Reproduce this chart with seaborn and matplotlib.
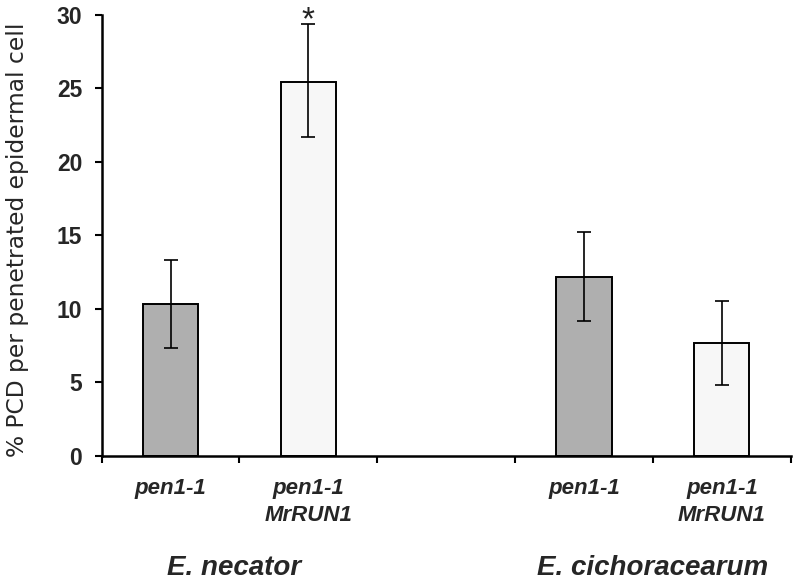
import pandas as pd
import numpy as np
import matplotlib
matplotlib.use("Agg")
import matplotlib.pyplot as plt
from matplotlib.ticker import FixedLocator
import seaborn as sns

# Values
positions = [0, 1, 3, 4]
strains = ["pen1-1", "pen1-1\nMrRUN1", "pen1-1", "pen1-1\nMrRUN1"]
genotype = ["pen1-1", "MrRUN1", "pen1-1", "MrRUN1"]
pcd = [10.3, 25.4, 12.2, 7.7]
err_low = [7.35, 21.65, 9.2, 4.85]
err_high = [13.3, 29.35, 15.2, 10.55]
pathogens = ["E. necator", "E. cichoracearum"]
pathogen_x = [0.46, 3.5]

df = pd.DataFrame({"pos": positions, "pcd": pcd, "genotype": genotype})

sns.set_theme(style="white")
plt.rcParams["font.family"] = ["Liberation Sans", "DejaVu Sans"]

fig = plt.figure(figsize=(7.94, 5.81), dpi=100)
ax = fig.add_axes([0.128, 0.215, 0.868, 0.76])

sns.barplot(data=df, x="pos", y="pcd", hue="genotype", native_scale=True,
            dodge=False, width=0.4, palette={"pen1-1": "#afafaf", "MrRUN1": "#f7f7f7"},
            edgecolor="black", linewidth=1.4, legend=False, errorbar=None, ax=ax)

lower = np.array(pcd) - np.array(err_low)
upper = np.array(err_high) - np.array(pcd)
ax.errorbar(positions, pcd, yerr=[lower, upper], fmt="none", ecolor="black",
            elinewidth=1.2, capsize=5, capthick=1.2)

# significance star
ax.text(1, 29.0, "*", ha="center", va="baseline", fontsize=24,
        color="#222222", clip_on=False)

ax.set_xlim(-0.5, 4.5)
ax.set_ylim(0, 30)
ax.set_yticks([0, 5, 10, 15, 20, 25, 30])
ax.set_yticklabels(["0", "5", "10", "15", "20", "25", "30"], fontsize=16.5,
                   fontweight="bold")
ax.set_xticks(positions)
ax.set_xticklabels(strains, fontsize=16, fontweight="bold", style="italic",
                   linespacing=1.35)
ax.xaxis.set_minor_locator(FixedLocator([-0.5, 0.5, 1.5, 2.5, 3.5, 4.5]))
ax.tick_params(axis="x", which="major", length=0, pad=16)
ax.tick_params(axis="x", which="minor", length=5, width=1.5, direction="out",
               color="black", bottom=True)
ax.tick_params(axis="y", length=5, width=1.5, direction="out", color="black",
               left=True, pad=9)

ax.set_xlabel("")
ax.set_ylabel("% PCD per penetrated epidermal cell", fontsize=16.8,
              family="DejaVu Sans")
ax.yaxis.set_label_coords(-0.105, 0.49)

for side in ["top", "right"]:
    ax.spines[side].set_visible(False)
for side in ["left", "bottom"]:
    ax.spines[side].set_color("black")
    ax.spines[side].set_linewidth(1.8)

for name, x in zip(pathogens, pathogen_x):
    ax.text(x, -0.253, name, transform=ax.get_xaxis_transform(), ha="center",
            va="center", fontsize=20, fontweight="bold", style="italic")

fig.savefig("out.png", dpi=100)
